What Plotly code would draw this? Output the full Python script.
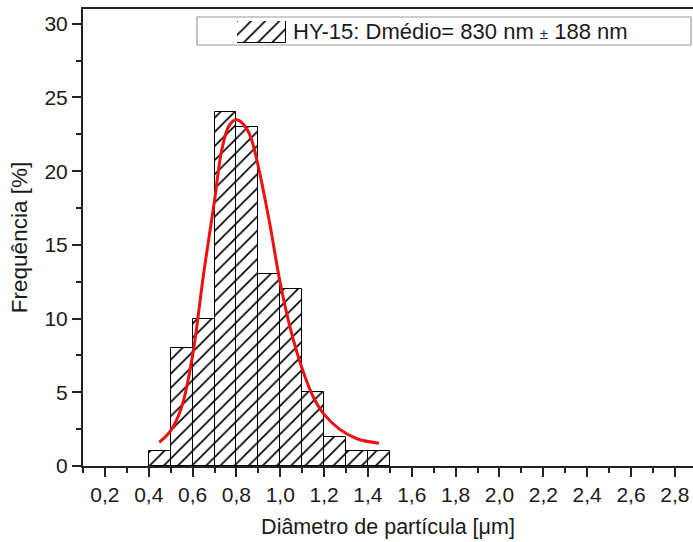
import plotly.graph_objects as go

# Histogram bins (centres) and frequencies [%]
bin_centers = [0.45, 0.55, 0.65, 0.75, 0.85, 0.95, 1.05, 1.15, 1.25, 1.35, 1.45]
frequencies = [1, 8, 10, 24, 23, 13, 12, 5, 2, 1, 1]
bin_width = 0.1

# Fitted curve points
fit_x = [0.448, 0.50, 0.55, 0.60, 0.65, 0.70, 0.73, 0.76, 0.78, 0.80, 0.82, 0.85,
         0.87, 0.90, 0.95, 1.00, 1.05, 1.10, 1.15, 1.20, 1.27, 1.35, 1.45]
fit_y = [1.6, 2.4, 4.0, 7.5, 13.0, 18.0, 21.2, 22.9, 23.35, 23.5, 23.35, 22.8,
         22.1, 20.3, 16.6, 12.4, 9.1, 6.6, 4.7, 3.5, 2.5, 1.85, 1.55]

legend_text = "HY-15: Dmédio= 830 nm <span style='font-size:15px'>±</span> 188 nm"
x_title = "Diâmetro de partícula [μm]"
y_title = "Frequência [%]"

FONT = "Liberation Sans, Arial, sans-serif"
TXT = "#1a1a1a"

pattern = dict(shape="/", size=10, solidity=0.17, fgcolor="black", bgcolor="white",
               fillmode="replace")

fig = go.Figure()
fig.add_trace(go.Bar(x=bin_centers, y=frequencies, width=[bin_width] * len(bin_centers),
                     marker=dict(color="white", pattern=pattern,
                                 line=dict(color="black", width=1)),
                     showlegend=False))
fig.add_trace(go.Scatter(x=fit_x, y=fit_y, mode="lines",
                         line=dict(color="#ee1111", width=3, shape="spline"),
                         showlegend=False))
# legend swatch on an overlay axis
fig.add_trace(go.Bar(x=[0], y=[1], width=[1], xaxis="x2", yaxis="y2",
                     marker=dict(color="white", pattern=pattern,
                                 line=dict(color="black", width=1)),
                     showlegend=False, hoverinfo="skip"))

L, T, B = 83, 9, 76
W, H = 693, 542
pw = W - L
ph = H - T - B

def px2fx(px):
    return (px - L) / pw

def py2fy(py):
    return (H - B - py) / ph

fig.update_layout(
    width=W, height=H,
    margin=dict(l=L, r=0, t=T, b=B, pad=0),
    paper_bgcolor="white", plot_bgcolor="white",
    separators=",.",
    bargap=0,
    font=dict(family=FONT, size=21, color=TXT),
    xaxis=dict(range=[0.1, 2.883], tick0=0.2, dtick=0.2, tickformat=".1f",
               ticks="outside", ticklen=9, tickwidth=1.5, tickcolor="#222",
               tickfont=dict(size=21),
               minor=dict(ticks="outside", ticklen=5, dtick=0.1, tick0=0.1,
                          tickwidth=1.5, tickcolor="#222"),
               showline=True, linecolor="#222", linewidth=2, mirror=True,
               showgrid=False, zeroline=False,
               title=dict(text=x_title, font=dict(size=21.5), standoff=14)),
    yaxis=dict(range=[0, 31], tick0=0, dtick=5,
               ticks="outside", ticklen=9, tickwidth=1.5, tickcolor="#222",
               tickfont=dict(size=21),
               minor=dict(ticks="outside", ticklen=5, dtick=2.5,
                          tickwidth=1.5, tickcolor="#222"),
               showline=True, linecolor="#222", linewidth=2,
               showgrid=False, zeroline=False,
               title=dict(text=y_title, font=dict(size=22.5), standoff=11)),
    xaxis2=dict(domain=[px2fx(237), px2fx(286)], range=[-0.5, 0.5], anchor="y2",
                visible=False, fixedrange=True),
    yaxis2=dict(domain=[py2fy(43), py2fy(21)], range=[0, 1], anchor="x2",
                visible=False, fixedrange=True),
    shapes=[dict(type="rect", xref="paper", yref="paper",
                 x0=px2fx(197), x1=px2fx(691), y0=py2fy(45), y1=py2fy(17),
                 line=dict(color="#999999", width=1.2), layer="above")],
    annotations=[dict(text=legend_text, xref="paper", yref="paper",
                      x=px2fx(291), y=py2fy(31), xanchor="left", yanchor="middle",
                      showarrow=False, font=dict(size=22, color=TXT))],
)

fig.write_html("out.html")
